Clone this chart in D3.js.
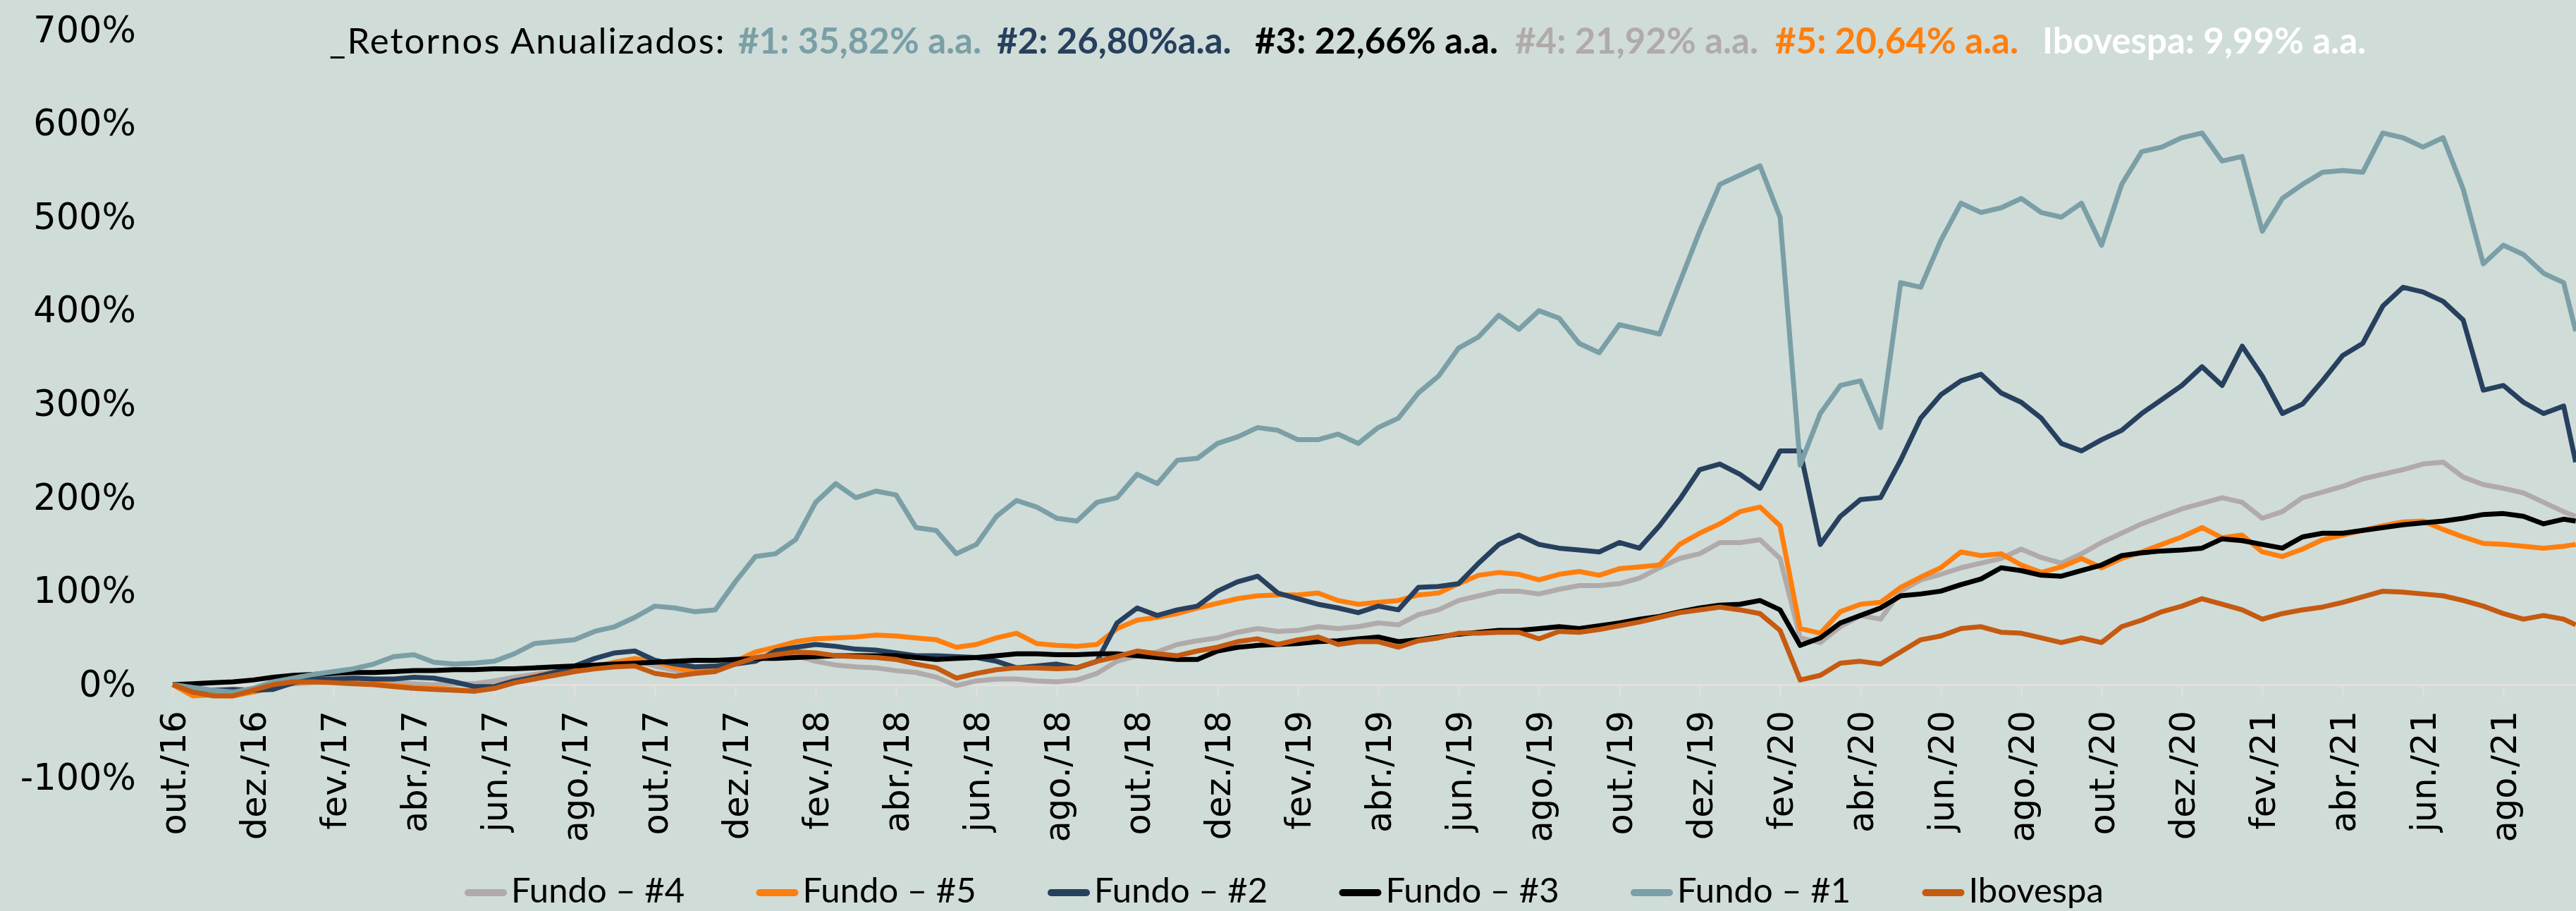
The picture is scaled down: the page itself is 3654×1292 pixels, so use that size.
<!DOCTYPE html>
<html>
<head>
<meta charset="utf-8">
<title>Retornos Anualizados</title>
<script src="https://cdn.jsdelivr.net/npm/d3@7"></script>
<style>
  body { margin: 0; background: #d0dcd8; }
  svg { display: block; }
</style>
</head>
<body>
<svg width="3654" height="1292" id="mainsvg"></svg>
<script>
// month index from out./16 (0) to the end of the data; two readings per month
const monthIdx = d3.range(0, 60, 0.5).concat([59.8]);

const tickMonths = d3.range(0, 60, 2);
const tickLabels = ["out./16", "dez./16", "fev./17", "abr./17", "jun./17", "ago./17", "out./17", "dez./17",
  "fev./18", "abr./18", "jun./18", "ago./18", "out./18", "dez./18", "fev./19", "abr./19", "jun./19",
  "ago./19", "out./19", "dez./19", "fev./20", "abr./20", "jun./20", "ago./20", "out./20", "dez./20",
  "fev./21", "abr./21", "jun./21", "ago./21"];

const yTicks = [-100, 0, 100, 200, 300, 400, 500, 600, 700];

// cumulative return, %
const fundo4 = [0,-5,-8,-9,-6,-2,1,2,3,3,
  3,2,1,0,1,1,4,8,11,14,
  18,20,24,26,20,15,13,16,22,27,
  30,31,25,21,19,18,15,13,8,-1,
  4,6,6,4,3,5,12,25,31,35,
  43,47,50,56,60,57,58,62,60,62,
  66,64,75,80,90,95,100,100,97,102,
  106,106,108,114,125,135,140,152,152,155,
  135,50,45,62,74,70,100,112,118,125,
  130,135,145,136,130,140,152,162,172,180,
  188,194,200,195,178,185,200,206,212,220,
  225,230,236,238,222,214,210,205,195,185,
  180];

const fundo5 = [0,-12,-11,-12,-8,-3,2,3,3,3,
  2,-1,-3,-4,-5,-7,-4,3,9,13,
  15,18,24,28,25,18,14,17,25,35,
  40,46,49,50,51,53,52,50,48,40,
  43,50,55,44,42,41,43,60,69,72,
  76,82,87,92,95,96,96,98,90,86,
  88,90,96,98,108,117,120,118,112,118,
  121,117,124,126,128,150,162,172,185,190,
  170,60,55,78,86,88,104,115,125,142,
  138,140,128,120,126,135,125,135,142,150,
  158,168,157,160,142,137,145,155,160,165,
  170,174,175,166,158,151,150,148,146,148,
  150];

const fundo2 = [0,-4,-6,-5,-6,-5,2,6,6,7,
  6,6,8,7,3,-2,-2,4,8,13,
  20,28,34,36,26,22,19,20,22,25,
  36,40,43,41,38,37,34,31,31,30,
  29,25,18,20,22,18,25,66,82,74,
  80,84,100,110,116,98,92,86,82,77,
  84,80,104,105,108,130,150,160,150,146,
  144,142,152,146,170,198,230,236,225,210,
  250,250,150,180,198,200,240,285,310,325,
  332,312,302,285,258,250,262,272,290,305,
  320,340,320,362,330,290,300,325,352,365,
  405,425,420,410,390,315,320,302,290,298,
  238];

const fundo3 = [0,1,2,3,5,8,10,11,12,13,
  13,14,15,15,16,16,17,17,18,19,
  20,21,22,23,24,25,26,26,27,28,
  28,29,30,31,31,31,31,29,27,28,
  29,31,33,33,32,32,33,33,31,29,
  27,27,36,40,42,43,44,46,47,49,
  51,46,48,51,54,56,58,58,60,62,
  60,63,66,70,73,78,82,85,86,90,
  80,42,50,66,74,82,95,97,100,107,
  113,125,122,117,116,122,128,138,141,143,
  144,146,156,154,150,146,158,162,162,165,
  168,171,173,175,178,182,183,180,172,177,
  175];

const fundo1 = [0,-3,-6,-8,-4,3,7,11,14,17,
  22,30,32,24,22,23,25,33,44,46,
  48,57,62,72,84,82,78,80,110,137,
  140,155,195,215,200,207,203,168,165,140,
  150,180,197,190,178,175,195,200,225,215,
  240,242,258,265,275,272,262,262,268,258,
  275,285,312,330,360,372,395,380,400,392,
  365,355,385,380,375,430,485,535,545,555,
  500,235,290,320,325,275,430,425,475,515,
  505,510,520,505,500,515,470,535,570,575,
  585,590,560,565,485,520,535,548,550,548,
  590,585,575,585,530,450,470,460,440,430,
  378];

const ibovespa = [0,-8,-12,-12,-6,0,3,3,2,1,
  0,-2,-4,-5,-6,-7,-4,2,6,10,
  14,17,19,20,12,9,12,14,22,29,
  32,35,34,31,30,29,27,22,18,7,
  12,16,18,18,17,18,25,30,36,33,
  31,36,40,46,49,43,48,51,43,46,
  46,40,47,50,55,55,56,56,49,57,
  56,59,63,67,72,77,80,83,80,76,
  58,5,10,23,25,22,35,48,52,60,
  62,56,55,50,45,50,45,62,69,78,
  84,92,86,80,70,76,80,83,88,94,
  100,99,97,95,90,84,76,70,74,70,
  64];

// series in drawing / legend order
const seriesNames = ["Fundo – #4", "Fundo – #5", "Fundo – #2", "Fundo – #3", "Fundo – #1", "Ibovespa"];
const seriesValues = [fundo4, fundo5, fundo2, fundo3, fundo1, ibovespa];
const seriesColors = ["#b0abaa", "#ff7f0e", "#27405e", "#000000", "#7a9fa6", "#c55a11"];

// title pieces
const titleParts = ["_Retornos Anualizados:", "#1: 35,82% a.a.", "#2: 26,80%a.a.", "#3: 22,66% a.a.",
  "#4: 21,92% a.a.", "#5: 20,64% a.a.", "Ibovespa: 9,99% a.a."];
const titleColors = ["#000000", "#7a9fa6", "#27405e", "#000000", "#b0abaa", "#ff7f0e", "#ffffff"];
const titleX = [467, 1047, 1414, 1780, 2149, 2518, 2897];

const svg = d3.select('#mainsvg');
const width = +svg.attr('width');
const height = +svg.attr('height');
const bg = '#d0dcd8';
const axisColor = '#e6dedd';

svg.append('rect').attr('width', width).attr('height', height).attr('fill', bg);

const xScale = d3.scaleLinear().domain([0, 60]).range([245, 3665]);
const yScale = d3.scaleLinear().domain([-100, 700]).range([1103.6, 42.8]);

// y axis (labels only)
const yAxis = d3.axisLeft(yScale)
  .tickValues(yTicks)
  .tickFormat(d => d + '%')
  .tickSize(0)
  .tickPadding(0);
const yg = svg.append('g').attr('transform', 'translate(193,0)').call(yAxis);
yg.select('.domain').remove();
yg.selectAll('text')
  .attr('font-family', 'DejaVu Sans')
  .attr('font-size', 51)
  .attr('fill', '#000');

// x axis sits on the zero line
const xAxis = d3.axisBottom(xScale)
  .tickValues(tickMonths)
  .tickFormat((d, i) => tickLabels[i])
  .tickSize(17)
  .tickSizeOuter(0);
const xg = svg.append('g').attr('transform', `translate(0,${yScale(0)})`).call(xAxis);
xg.select('.domain').attr('stroke', axisColor).attr('stroke-width', 3);
xg.selectAll('.tick line').attr('stroke', axisColor).attr('stroke-width', 2);
xg.selectAll('.tick text')
  .attr('transform', 'rotate(-90)')
  .attr('x', -37)
  .attr('y', 0)
  .attr('dy', '0.36em')
  .attr('text-anchor', 'end')
  .attr('font-family', 'DejaVu Sans')
  .attr('font-size', 49.5)
  .attr('fill', '#000');

// lines
const line = d3.line()
  .x((d, i) => xScale(monthIdx[i]))
  .y(d => yScale(d));

svg.append('g').selectAll('path')
  .data(seriesValues)
  .join('path')
  .attr('d', line)
  .attr('fill', 'none')
  .attr('stroke', (d, i) => seriesColors[i])
  .attr('stroke-width', 7)
  .attr('stroke-linejoin', 'round');

// title
const title = svg.append('text')
  .attr('y', 76)
  .attr('font-family', 'Lato')
  .attr('font-size', 51);
title.selectAll('tspan')
  .data(titleParts)
  .join('tspan')
  .attr('x', (d, i) => titleX[i])
  .attr('fill', (d, i) => titleColors[i])
  .attr('font-weight', (d, i) => i === 0 ? 400 : 700)
  .attr('letter-spacing', (d, i) => i === 0 ? 2 : 0)
  .text(d => d);

// legend
const legend = svg.append('g');
const items = legend.selectAll('g')
  .data(seriesNames)
  .join('g')
  .attr('transform', (d, i) => `translate(${664 + i * 413.5},1266)`);
items.append('line')
  .attr('x1', 0).attr('x2', 50)
  .attr('stroke', (d, i) => seriesColors[i])
  .attr('stroke-width', 10)
  .attr('stroke-linecap', 'round');
items.append('text')
  .attr('x', 61)
  .attr('y', 14)
  .attr('font-family', 'Lato')
  .attr('font-size', 49)
  .attr('fill', '#000')
  .text(d => d);
</script>
</body>
</html>
